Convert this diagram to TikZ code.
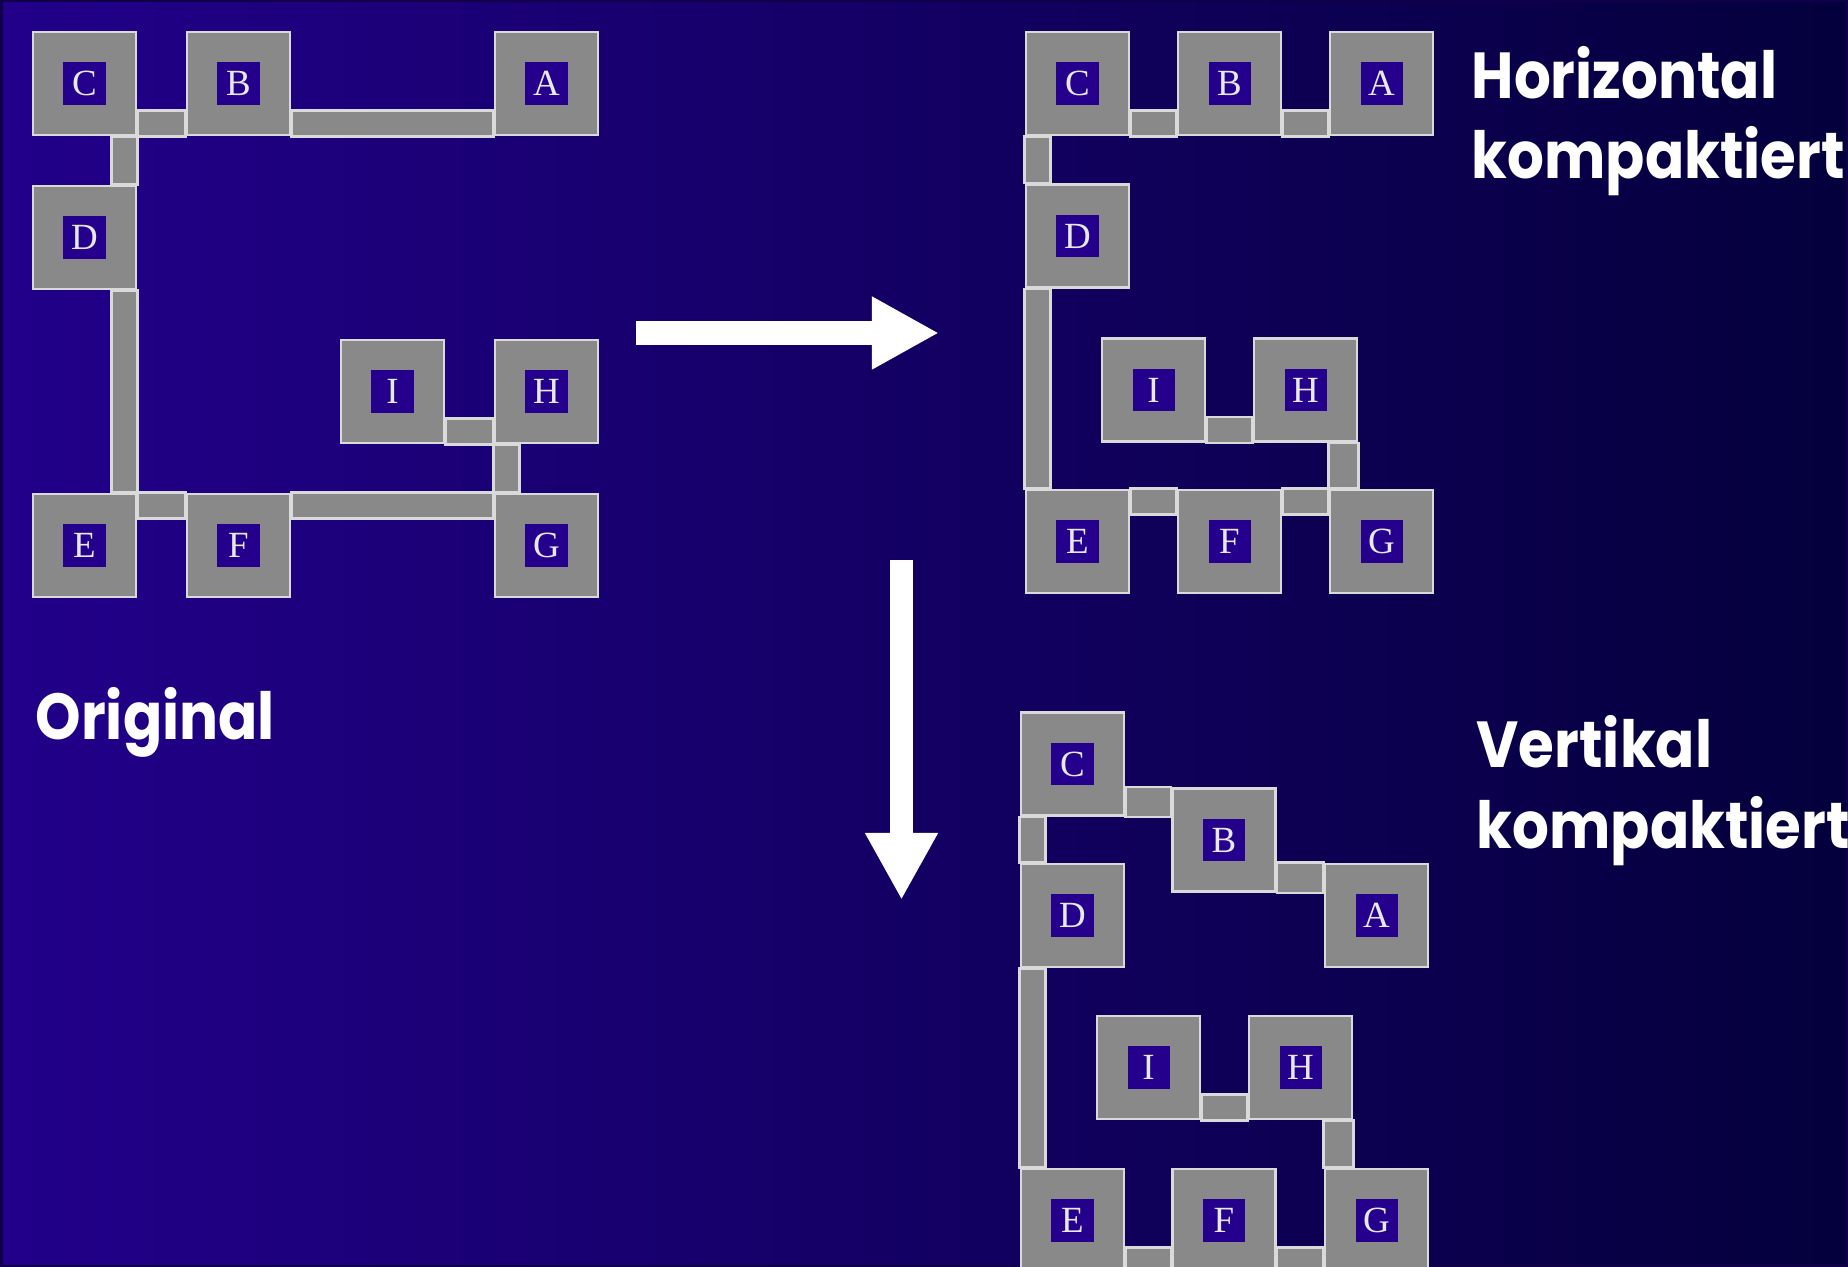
\documentclass[tikz,border=0pt]{standalone}
\usepackage{fontspec}
\usepackage{xcolor}
\usepackage{tikz}
\usetikzlibrary{arrows.meta,positioning}
\newfontfamily\capfont{Poppins}[FakeStretch=0.89]
\newfontfamily\chipfont{Liberation Serif}
\definecolor{slideleft}{HTML}{22008A}
\definecolor{slideright}{HTML}{04003C}
\definecolor{slideedge}{HTML}{10004A}
\definecolor{cellgray}{HTML}{898989}
\definecolor{celledge}{HTML}{DADADA}
\definecolor{chipviolet}{HTML}{24008C}
\definecolor{chiptext}{HTML}{E8E8E8}
\pgfdeclarelayer{backdrop}
\pgfdeclarelayer{wiring}
\pgfsetlayers{backdrop,wiring,main}

\begin{document}
\begin{tikzpicture}[
  x=0.01cm, y=-0.01cm,
  cell/.style={
    draw=celledge,
    fill=cellgray,
    line width=0.8pt,
    minimum size=1.03cm,
    inner sep=0pt
  },
  chip/.style={fill=chipviolet,minimum size=0.42cm,inner sep=0pt,text=chiptext,font=\chipfont\fontsize{10.5}{10.5}\selectfont},
  wire/.style={draw=celledge,fill=cellgray,line width=0.8pt},
  caption/.style={text=white,font=\capfont\bfseries\fontsize{18.5}{22.8}\selectfont,align=left,inner sep=0pt},
  shift arrow/.style={draw=white,line width=0.23cm,-{Triangle[width=0.68cm,length=0.67cm]}}
]
  \useasboundingbox (0,0) rectangle (1848,1267);
  \begin{pgfonlayer}{backdrop}
    \shade[left color=slideleft,right color=slideright] (0,0) rectangle (1848,1267);
    \draw[slideedge,line width=0.05cm] (0,0) rectangle (1848,1267);
  \end{pgfonlayer}

  % original
  \node[cell,label={[chip]center:C}] (oC) at (84.5,83.5) {};
  \node[cell,label={[chip]center:B}] (oB) at (238.5,83.5) {};
  \node[cell,label={[chip]center:A}] (oA) at (546.5,83.5) {};
  \node[cell,label={[chip]center:D}] (oD) at (84.5,237.5) {};
  \node[cell,label={[chip]center:I}] (oI) at (392.5,391.5) {};
  \node[cell,label={[chip]center:H}] (oH) at (546.5,391.5) {};
  \node[cell,label={[chip]center:E}] (oE) at (84.5,545.5) {};
  \node[cell,label={[chip]center:F}] (oF) at (238.5,545.5) {};
  \node[cell,label={[chip]center:G}] (oG) at (546.5,545.5) {};

  % horizontal kompaktiert
  \node[cell,label={[chip]center:C}] (hC) at (1077.5,83.5) {};
  \node[cell,label={[chip]center:B}] (hB) at (1229.5,83.5) {};
  \node[cell,label={[chip]center:A}] (hA) at (1381.5,83.5) {};
  \node[cell,label={[chip]center:D}] (hD) at (1077.5,236) {};
  \node[cell,label={[chip]center:I}] (hI) at (1153.5,390) {};
  \node[cell,label={[chip]center:H}] (hH) at (1305.5,390) {};
  \node[cell,label={[chip]center:E}] (hE) at (1077.5,541.5) {};
  \node[cell,label={[chip]center:F}] (hF) at (1229.5,541.5) {};
  \node[cell,label={[chip]center:G}] (hG) at (1381.5,541.5) {};

  % vertikal kompaktiert
  \node[cell,label={[chip]center:C}] (vC) at (1072.5,764) {};
  \node[cell,label={[chip]center:B}] (vB) at (1224,840) {};
  \node[cell,label={[chip]center:A}] (vA) at (1376.5,915.5) {};
  \node[cell,label={[chip]center:D}] (vD) at (1072.5,915.5) {};
  \node[cell,label={[chip]center:I}] (vI) at (1148.5,1067.5) {};
  \node[cell,label={[chip]center:H}] (vH) at (1300.5,1067.5) {};
  \node[cell,label={[chip]center:E}] (vE) at (1072.5,1220.5) {};
  \node[cell,label={[chip]center:F}] (vF) at (1224,1220.5) {};
  \node[cell,label={[chip]center:G}] (vG) at (1376.5,1220.5) {};

  \begin{pgfonlayer}{wiring}
    \draw[wire] (oC.south east) rectangle ([yshift=0.26cm]oB.south west);
    \draw[wire] (oB.south east) rectangle ([yshift=0.26cm]oA.south west);
    \draw[wire] (oC.south east) rectangle ([xshift=-0.26cm]oD.north east);
    \draw[wire] (oD.south east) rectangle ([xshift=-0.26cm]oE.north east);
    \draw[wire] (oE.north east) rectangle ([yshift=-0.26cm]oF.north west);
    \draw[wire] (oF.north east) rectangle ([yshift=-0.26cm]oG.north west);
    \draw[wire] (oI.south east) rectangle ([yshift=0.26cm]oH.south west);
    \draw[wire] (oH.south west) rectangle ([xshift=0.26cm]oG.north west);

    \draw[wire] (hC.south east) rectangle ([yshift=0.26cm]hB.south west);
    \draw[wire] (hB.south east) rectangle ([yshift=0.26cm]hA.south west);
    \draw[wire] (hC.south west) rectangle ([xshift=0.26cm]hD.north west);
    \draw[wire] (hD.south west) rectangle ([xshift=0.26cm]hE.north west);
    \draw[wire] (hE.north east) rectangle ([yshift=-0.26cm]hF.north west);
    \draw[wire] (hF.north east) rectangle ([yshift=-0.26cm]hG.north west);
    \draw[wire] (hI.south east) rectangle ([yshift=0.26cm]hH.south west);
    \draw[wire] (hH.south east) rectangle (hG.north west);

    \draw[wire] (vC.south east) rectangle (vB.north west);
    \draw[wire] (vB.south east) rectangle (vA.north west);
    \draw[wire] (vC.south west) rectangle ([xshift=0.26cm]vD.north west);
    \draw[wire] (vD.south west) rectangle ([xshift=0.26cm]vE.north west);
    \draw[wire] (vE.south east) rectangle ([yshift=0.26cm]vF.south west);
    \draw[wire] (vF.south east) rectangle ([yshift=0.26cm]vG.south west);
    \draw[wire] (vI.south east) rectangle ([yshift=0.26cm]vH.south west);
    \draw[wire] (vH.south east) rectangle (vG.north west);
  \end{pgfonlayer}

  \coordinate (hfrom) at (636,333);
  \coordinate (hto) at (939,333);
  \coordinate (vfrom) at (901.5,560);
  \coordinate (vto) at (901.5,900);
  \draw[shift arrow] (hfrom) -- (hto);
  \draw[shift arrow] (vfrom) -- (vto);

  \node[caption,anchor=base west] (origcap) at (35,739) {Original};
  \node[caption,anchor=base west] (horizcap) at (1471,179) {Horizontal\\kompaktiert};
  \node[caption,anchor=base west] (vertcap) at (1476,848) {Vertikal\\kompaktiert};
\end{tikzpicture}
\end{document}
